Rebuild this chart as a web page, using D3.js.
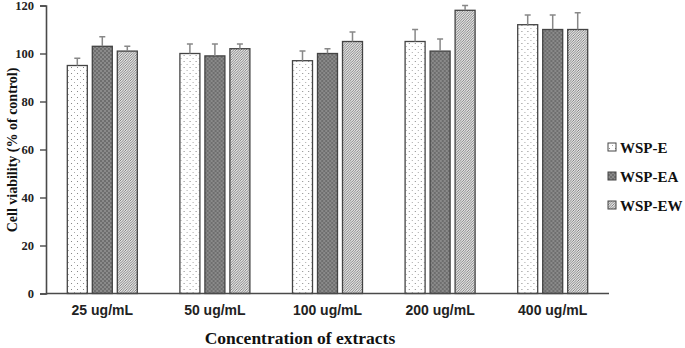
<!DOCTYPE html>
<html>
<head>
<meta charset="utf-8">
<script src="https://cdn.jsdelivr.net/npm/d3@7"></script>
<style>
  body { margin: 0; background: #fff; }
  svg { display: block; }
</style>
</head>
<body>
<div id="chart"></div>
<script>
var categories = ["25 ug/mL", "50 ug/mL", "100 ug/mL", "200 ug/mL", "400 ug/mL"]
var seriesNames = ["WSP-E", "WSP-EA", "WSP-EW"]
var meanE = [95, 100, 97, 105, 112]
var meanEA = [103, 99, 100, 101, 110]
var meanEW = [101, 102, 105, 118, 110]
var errE = [3, 4, 4, 5, 4]
var errEA = [4, 5, 2, 5, 6]
var errEW = [2, 2, 4, 2, 7]
var yTicks = [0, 20, 40, 60, 80, 100, 120]

var width = 685, height = 348
var margin = {top: 5.5, right: 76, bottom: 54.5, left: 46}

var svg = d3.select("#chart").append("svg")
  .attr("width", width)
  .attr("height", height)

var defs = svg.append("defs")

// dotted pattern
var pE = defs.append("pattern").attr("id", "patE")
  .attr("patternUnits", "userSpaceOnUse").attr("width", 6).attr("height", 6)
pE.append("rect").attr("width", 6).attr("height", 6).attr("fill", "#fff")
pE.append("rect").attr("x", 1).attr("y", 1).attr("width", 1).attr("height", 1).attr("fill", "#888")
pE.append("rect").attr("x", 4).attr("y", 4).attr("width", 1).attr("height", 1).attr("fill", "#aaa")

// dark checker pattern
var pEA = defs.append("pattern").attr("id", "patEA")
  .attr("patternUnits", "userSpaceOnUse").attr("width", 4).attr("height", 4)
pEA.append("rect").attr("width", 4).attr("height", 4).attr("fill", "#6e6e6e")
pEA.append("rect").attr("width", 2).attr("height", 2).attr("fill", "#8a8a8a")
pEA.append("rect").attr("x", 2).attr("y", 2).attr("width", 2).attr("height", 2).attr("fill", "#8a8a8a")

// diagonal hatch (fine)
var pEW = defs.append("pattern").attr("id", "patEW")
  .attr("patternUnits", "userSpaceOnUse").attr("width", 2.5).attr("height", 2.5)
pEW.append("rect").attr("width", 2.5).attr("height", 2.5).attr("fill", "#e6e6e6")
pEW.append("path").attr("d", "M-1,1 L1,-1 M0,2.5 L2.5,0 M1.5,3.5 L3.5,1.5")
  .attr("stroke", "#6a6a6a").attr("stroke-width", 0.8)

var fills = ["url(#patE)", "url(#patEA)", "url(#patEW)"]

var data = categories.map(function(c, i) {
  return {
    cat: c,
    vals: [
      {s: 0, v: meanE[i], e: errE[i]},
      {s: 1, v: meanEA[i], e: errEA[i]},
      {s: 2, v: meanEW[i], e: errEW[i]}
    ]
  }
})

var x0 = d3.scaleBand()
  .domain(categories)
  .range([margin.left, width - margin.right])
  .paddingInner(0).paddingOuter(0)

var bw = x0.bandwidth()
var x1 = d3.scaleBand()
  .domain([0, 1, 2])
  .range([bw / 2 - 35, bw / 2 + 35])
  .paddingInner(0.2)

var y = d3.scaleLinear()
  .domain([0, 120])
  .range([height - margin.bottom, margin.top])

var axisColor = "#4a4a4a"

// y axis (major + minor ticks)
var gy = svg.append("g").attr("transform", "translate(" + margin.left + ",0)")
gy.call(d3.axisLeft(y).tickValues(d3.range(10, 120, 20)).tickSize(3).tickFormat(""))
gy.call(d3.axisLeft(y).tickValues(yTicks).tickSize(6).tickFormat(""))
gy.selectAll("line").attr("stroke", axisColor).attr("stroke-width", 1.4)
gy.selectAll(".domain").attr("stroke", axisColor).attr("stroke-width", 1.6)

svg.append("g").selectAll("text")
  .data(yTicks)
  .enter().append("text")
  .attr("x", 34)
  .attr("y", function(d) { return y(d) + 4.5 })
  .attr("text-anchor", "end")
  .style("font-family", "'Liberation Serif', 'Times New Roman', serif")
  .style("font-weight", "bold")
  .style("font-size", "12.5px")
  .attr("fill", "#222")
  .text(function(d) { return d })

// bars
var groups = svg.append("g").selectAll("g")
  .data(data)
  .enter().append("g")
  .attr("transform", function(d) { return "translate(" + x0(d.cat) + ",0)" })

groups.selectAll("rect")
  .data(function(d) { return d.vals })
  .enter().append("rect")
  .attr("x", function(d) { return x1(d.s) })
  .attr("y", function(d) { return y(d.v) })
  .attr("width", x1.bandwidth())
  .attr("height", function(d) { return y(0) - y(d.v) })
  .attr("fill", function(d) { return fills[d.s] })
  .attr("stroke", "#444")
  .attr("stroke-width", 1.3)

// error bars
groups.selectAll(".err")
  .data(function(d) { return d.vals })
  .enter().append("path")
  .attr("class", "err")
  .attr("d", function(d) {
    var cx = x1(d.s) + x1.bandwidth() / 2
    var top = y(d.v + d.e)
    return "M" + cx + "," + y(d.v) + "V" + top + "M" + (cx - 3) + "," + top + "H" + (cx + 3)
  })
  .attr("stroke", "#888")
  .attr("stroke-width", 1.5)
  .attr("fill", "none")

// x axis line
svg.append("line")
  .attr("x1", margin.left).attr("x2", width - margin.right + 0)
  .attr("y1", y(0)).attr("y2", y(0))
  .attr("stroke", axisColor).attr("stroke-width", 1.6)

// category labels
svg.append("g").selectAll("text")
  .data(categories)
  .enter().append("text")
  .attr("x", function(d) { return x0(d) + bw / 2 })
  .attr("y", 315)
  .attr("text-anchor", "middle")
  .style("font-family", "'Liberation Sans', Arial, sans-serif")
  .style("font-weight", "bold")
  .style("font-size", "14px")
  .attr("fill", "#222")
  .text(function(d) { return d })

// axis titles
svg.append("text")
  .attr("x", 300).attr("y", 344)
  .attr("text-anchor", "middle")
  .style("font-family", "'Liberation Serif', 'Times New Roman', serif")
  .style("font-weight", "bold")
  .style("font-size", "17.5px")
  .attr("fill", "#111")
  .text("Concentration of extracts")

svg.append("text")
  .attr("transform", "translate(17,150) rotate(-90)")
  .attr("text-anchor", "middle")
  .style("font-family", "'Liberation Serif', 'Times New Roman', serif")
  .style("font-weight", "bold")
  .style("font-size", "14px")
  .attr("fill", "#111")
  .text("Cell viability (% of control)")

// legend
var legend = svg.append("g").selectAll("g")
  .data(seriesNames)
  .enter().append("g")
  .attr("transform", function(d, i) { return "translate(608," + (147 + i * 29) + ")" })

legend.append("rect")
  .attr("x", 0).attr("y", -4)
  .attr("width", 8).attr("height", 8)
  .attr("fill", function(d, i) { return fills[i] })
  .attr("stroke", "#444").attr("stroke-width", 1)

legend.append("text")
  .attr("x", 12).attr("y", 5.5)
  .style("font-family", "'Liberation Serif', 'Times New Roman', serif")
  .style("font-weight", "bold")
  .style("font-size", "15px")
  .attr("fill", "#111")
  .text(function(d) { return d })
</script>
</body>
</html>
